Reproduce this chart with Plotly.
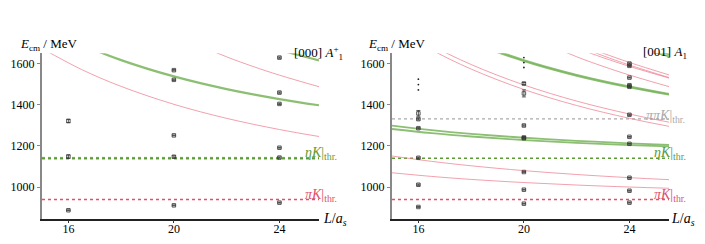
import plotly.graph_objects as go

# ---------------- data ----------------
L_TICKS = [16, 20, 24]
E_TICKS = [1000, 1200, 1400, 1600]

THR_PIK = 939
THR_ETAK = 1140
THR_PIPIK = 1331

# common L grid for curves (L / a_s)
L_GRID = [15, 16.5, 18, 20, 22, 24, 25.5]

# ---- left panel [000] A1+ : non-interacting curves ----
LEFT_PIK_1 = [1673.4, 1571.3, 1489.1, 1402.0, 1333.8, 1279.5, 1245.6]
LEFT_ETAK_1 = [1787.6, 1692.7, 1617.0, 1537.6, 1476.0, 1427.5, 1397.4]
LEFT_PIK_2_L = [18, 20, 22, 23, 24, 25.5]
LEFT_PIK_2 = [1881.5, 1743.0, 1632.8, 1586.0, 1543.8, 1487.5]
LEFT_ETAK_2_L = [22, 24, 25, 25.5]
LEFT_ETAK_2 = [1749.8, 1667.3, 1631.9, 1615.6]

# ---- right panel [001] A1 : non-interacting curves ----
RIGHT_PIK_A1 = [1069.3, 1051.5, 1037.0, 1021.7, 1009.6, 1000.0, 993.9]
RIGHT_PIK_A2 = [1150.8, 1124.7, 1103.2, 1079.7, 1060.8, 1045.5, 1035.7]
RIGHT_ETAK_A1 = [1282.0, 1261.9, 1245.6, 1228.3, 1214.7, 1204.0, 1197.3]
RIGHT_ETAK_A2 = [1298.6, 1276.5, 1258.6, 1239.6, 1224.6, 1212.6, 1205.1]
RIGHT_PIK_B1 = [1782.2, 1666.8, 1573.4, 1474.1, 1396.2, 1333.9, 1295.0]
RIGHT_PIK_B2 = [1804.0, 1688.8, 1595.5, 1496.2, 1417.7, 1354.8, 1315.2]
RIGHT_ETAK_B1 = [1904.1, 1795.9, 1708.9, 1617.1, 1545.5, 1488.6, 1453.2]
RIGHT_ETAK_B2 = [1898.6, 1790.3, 1703.4, 1611.9, 1540.5, 1483.9, 1448.7]
L_UPPER = [20, 22, 23, 24, 25.5]
RIGHT_PIK_C1 = [1743.4, 1633.2, 1586.5, 1544.3, 1488.0]
RIGHT_PIK_C2 = [1785.8, 1675.7, 1628.8, 1586.4, 1529.6]
RIGHT_PIK_D1 = [1806.5, 1688.4, 1638.2, 1592.8, 1532.3]
RIGHT_PIK_D2 = [1818.9, 1701.0, 1650.8, 1605.5, 1544.9]
L_TOP = [24, 25, 25.5]
RIGHT_ETAK_C1 = [1687.2, 1651.5, 1634.9]
RIGHT_ETAK_C2 = [1697.4, 1661.4, 1644.8]

# ---- lattice energy levels ----
LEFT_LV_L = [16, 16, 16, 20, 20, 20, 20, 20, 24, 24, 24, 24, 24, 24]
LEFT_LV_E = [887, 1148, 1321, 911, 1147, 1251, 1521, 1568, 924, 1143, 1191, 1404, 1459, 1629]
LEFT_LV_ERR = [2, 8, 8, 2, 5, 2, 3, 3, 2, 3, 2, 3, 3, 3]

RIGHT_LV_L = [16, 16, 16, 16, 16, 16,
              20, 20, 20, 20, 20, 20, 20, 20,
              24, 24, 24, 24, 24, 24, 24, 24, 24, 24, 24]
RIGHT_LV_E = [903, 1011, 1142, 1286, 1330, 1358,
              919, 987, 1073, 1237, 1241, 1299, 1455, 1503,
              924, 982, 1045, 1210, 1244, 1351, 1487, 1495, 1532, 1589, 1600]
RIGHT_LV_ERR = [2, 3, 3, 3, 4, 14,
                2, 2, 2, 3, 3, 3, 17, 5,
                2, 2, 2, 2, 2, 3, 3, 3, 2, 3, 3]

# "more levels" dots
DOTS_L = [16, 16, 16, 20, 20, 20]
DOTS_E = [1472, 1498, 1524, 1581, 1605, 1629]

# ---------------- styling ----------------
PINK = "rgba(236,130,145,0.75)"
GREEN = "rgba(120,180,90,0.85)"
GREEN_THR = "#5c9a36"
PINK_THR = "#e0506a"
GREY_THR = "#aaaaaa"
SERIF = "Liberation Serif"
OFF = 8                      # page body margin
W, H = 705 - OFF, 244 - OFF


def px(x):
    return (x - OFF) / W


def py(y):
    return 1 - (y - OFF) / H


fig = go.Figure()


def curve(L, E, color, width, ax):
    fig.add_trace(go.Scatter(
        x=L, y=E, mode="lines",
        line=dict(color=color, width=width, shape="spline", smoothing=1.0),
        xaxis="x" + ax, yaxis="y" + ax, showlegend=False, hoverinfo="skip"))


def hline(val, color, width, ax):
    fig.add_trace(go.Scatter(
        x=[15, 25.5], y=[val, val], mode="lines",
        line=dict(color=color, width=width, dash="dot"),
        xaxis="x" + ax, yaxis="y" + ax, showlegend=False, hoverinfo="skip"))


# left panel
hline(THR_ETAK, "rgba(150,200,120,0.6)", 3, "")
hline(THR_ETAK, GREEN_THR, 2, "")
hline(THR_PIK, PINK_THR, 1.5, "")
curve(L_GRID, LEFT_PIK_1, PINK, 1, "")
curve(LEFT_PIK_2_L, LEFT_PIK_2, PINK, 1, "")
curve(L_GRID, LEFT_ETAK_1, GREEN, 2.2, "")
curve(LEFT_ETAK_2_L, LEFT_ETAK_2, GREEN, 2.2, "")

# right panel
hline(THR_PIPIK, GREY_THR, 1.2, "2")
hline(THR_ETAK, GREEN_THR, 1.6, "2")
hline(THR_PIK, PINK_THR, 1.5, "2")
for E in (RIGHT_PIK_A1, RIGHT_PIK_A2, RIGHT_PIK_B1, RIGHT_PIK_B2):
    curve(L_GRID, E, PINK, 1, "2")
for E in (RIGHT_PIK_C1, RIGHT_PIK_C2, RIGHT_PIK_D1, RIGHT_PIK_D2):
    curve(L_UPPER, E, PINK, 1, "2")
for E in (RIGHT_ETAK_A1, RIGHT_ETAK_A2, RIGHT_ETAK_B1, RIGHT_ETAK_B2):
    curve(L_GRID, E, GREEN, 1.8, "2")
for E in (RIGHT_ETAK_C1, RIGHT_ETAK_C2):
    curve(L_TOP, E, GREEN, 1.8, "2")


def levels(L, E, err, ax):
    fig.add_trace(go.Scatter(
        x=L, y=E, mode="markers",
        marker=dict(symbol="square-open", size=3.5, color="#333", line=dict(width=0.8, color="#333")),
        error_y=dict(type="data", array=err, color="#333", thickness=0.8, width=2),
        xaxis="x" + ax, yaxis="y" + ax, showlegend=False, hoverinfo="skip"))


levels(LEFT_LV_L, LEFT_LV_E, LEFT_LV_ERR, "")
levels(RIGHT_LV_L, RIGHT_LV_E, RIGHT_LV_ERR, "2")
fig.add_trace(go.Scatter(
    x=DOTS_L, y=DOTS_E, mode="markers",
    marker=dict(symbol="circle", size=1.8, color="#222"),
    xaxis="x2", yaxis="y2", showlegend=False, hoverinfo="skip"))

xdom1 = [px(42), px(319)]
xdom2 = [px(392), px(669)]
ydom = [py(218.7), py(53.3)]

xax = dict(range=[15, 25.5], tickvals=L_TICKS, ticks="outside", ticklen=3,
           tickcolor="#333", showline=True, linecolor="#222", linewidth=1.5,
           showgrid=False, zeroline=False, fixedrange=True, ticklabelstandoff=-5,
           tickfont=dict(family=SERIF, size=12, color="black"))
yax = dict(range=[846, 1650], tickvals=E_TICKS, ticks="outside", ticklen=3,
           tickcolor="#888", showline=True, linecolor="#888", linewidth=2,
           showgrid=False, zeroline=False, fixedrange=True,
           tickfont=dict(family=SERIF, size=12, color="black"))

fig.update_layout(
    width=W, height=H,
    margin=dict(l=0, r=0, t=0, b=0),
    paper_bgcolor="white", plot_bgcolor="white",
    xaxis=dict(domain=xdom1, anchor="y", **xax),
    yaxis=dict(domain=ydom, anchor="x", **yax),
    xaxis2=dict(domain=xdom2, anchor="y2", **xax),
    yaxis2=dict(domain=ydom, anchor="x2", **yax),
)


def note(text, x, y, color="black", size=12, xanchor="left"):
    fig.add_annotation(text=text, x=px(x), y=py(y), xref="paper", yref="paper",
                       xanchor=xanchor, yanchor="middle", showarrow=False,
                       font=dict(family=SERIF, size=size, color=color))


# axis titles
note("<i>E</i><sub>cm</sub> / MeV", 18, 44, size=13)
note("<i>E</i><sub>cm</sub> / MeV", 366, 44, size=13)
note("<i>L</i>/<i>a<sub>s</sub></i>", 321, 219, size=14)
note("<i>L</i>/<i>a<sub>s</sub></i>", 669, 219, size=14)

# irrep labels
note("[000] <i>A</i><sup>+</sup><sub>1</sub>", 292, 53, size=13)
note("[001] <i>A</i><sub>1</sub>", 641, 53, size=13)

# threshold labels
note("<i>ηK</i>|<sub>thr.</sub>", 303, 153, color=GREEN_THR, size=14)
note("<i>πK</i>|<sub>thr.</sub>", 303, 195, color=PINK_THR, size=14)
note("<i>ηK</i>|<sub>thr.</sub>", 652, 153, color=GREEN_THR, size=14)
note("<i>πK</i>|<sub>thr.</sub>", 652, 195, color=PINK_THR, size=14)
note("<i>ππK</i>|<sub>thr.</sub>", 644, 116, color=GREY_THR, size=14)

fig.write_html("out.html")
